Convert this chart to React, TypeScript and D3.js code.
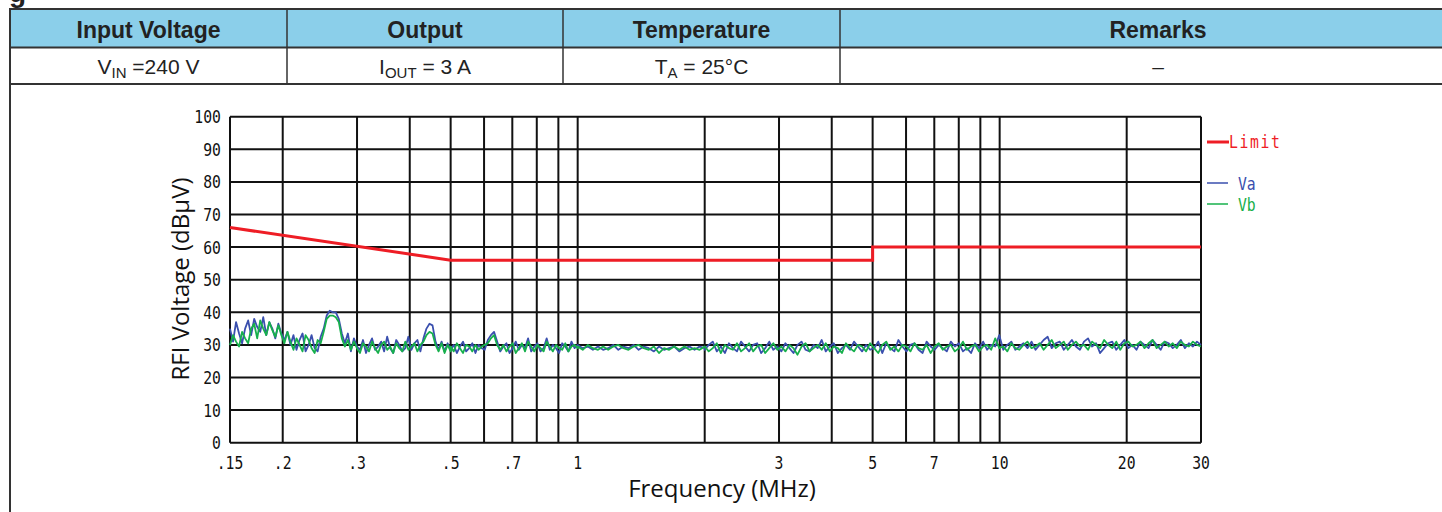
import React from 'react'
import * as d3 from 'd3'

// table content
const headers = ['Input Voltage', 'Output', 'Temperature', 'Remarks']
const conditions = [
    { main: 'V', sub: 'IN', rest: ' =240 V' },
    { main: 'I', sub: 'OUT', rest: ' = 3 A' },
    { main: 'T', sub: 'A', rest: ' = 25°C' },
    { main: '–', sub: '', rest: '' },
]

// axes
const yTicks = [0, 10, 20, 30, 40, 50, 60, 70, 80, 90, 100]
const xGrid = [0.2, 0.3, 0.4, 0.5, 0.6, 0.7, 0.8, 0.9, 1, 2, 3, 4, 5, 6, 7, 8, 9, 10, 20, 30]
const xTickValues = [0.15, 0.2, 0.3, 0.5, 0.7, 1, 3, 5, 7, 10, 20, 30]
const xTickLabels = ['.15', '.2', '.3', '.5', '.7', '1', '3', '5', '7', '10', '20', '30']

// limit line (MHz, dBuV)
const limitFreq = [0.15, 0.5, 5, 5, 30]
const limitLevel = [66, 56, 56, 60, 60]

// sweep bands (MHz), points evenly spread in log f inside each band
const bandEdges = [0.15, 0.5, 1, 2, 30]

const vaBand1 = [35, 31, 37, 33.5, 30.5, 35, 37.5, 33, 38, 35.5, 34, 38.5, 33, 37, 35, 32, 36.5, 33.5, 31.5, 34,
    30, 33, 28.5, 31.5, 33.5, 28, 30, 33, 29, 28, 32.5, 35, 39, 40.5, 40, 40, 38, 33.5, 30.5, 33.5,
    28, 32, 29.5, 28.5, 31.5, 27.5, 30, 32, 28.5, 29.5, 31, 28, 32.5, 29, 27.5, 31.5, 30, 28, 29, 32.5,
    28.5, 30.5, 31.5, 28, 32, 35, 36.5, 36, 31, 28.5, 31, 28, 30.5, 28.5]
const vaBand2 = [28.5, 30, 27.5, 29.5, 31, 28, 29, 30.5, 27.5, 30, 29, 28.5, 31.5, 33, 34, 31, 28, 29.5, 30.5, 27.5,
    29, 31, 28.5, 30, 29, 32, 28, 29.5, 30.5, 28, 29, 32, 28.5, 30, 29, 27.5, 30.5, 29.5, 28, 31, 29, 30]
const vaBand3 = [30, 29, 29.5, 28.5, 29.5, 28.5, 29, 30, 28.5, 29.5, 29, 30, 28.5, 29.5, 29, 28, 29.5, 28.5, 29, 29.5,
    28, 29, 29.5, 28.5, 29.5, 29]
const vaBand4 = [28.5, 30, 31, 28, 29.5, 27.5, 30.5, 29, 28, 31,
    29.5, 28, 30, 30.5, 27.5, 29, 31, 28.5, 29.5, 28,
    30.5, 29, 27.5, 30, 31, 28.5, 28, 30, 29, 31.5,
    28, 29.5, 30.5, 27.5, 29, 30, 28.5, 31, 29.5, 28,
    30, 28.5, 29, 31, 27.5, 30.5, 29, 28, 31.5, 29.5,
    28, 30, 30.5, 28.5, 27.5, 31, 29.5, 28.5, 30, 29,
    28, 31, 29.5, 30.5, 28, 29, 27.5, 30.5, 29, 31,
    28.5, 30, 29.5, 33, 28.5, 30, 31, 28.5, 29.5, 30.5,
    29, 31, 28.5, 30, 31.5, 32.5, 29, 30.5, 31, 28.5,
    30, 31.5, 29.5, 28.5, 31, 32, 29.5, 30.5, 27.5, 29,
    30.5, 31, 28.5, 30, 31.5, 29, 30, 28.5, 31, 30,
    29, 31.5, 30, 28.5, 31, 30.5, 29, 30, 31.5, 29,
    30.5, 29.5, 31, 30]

const vbBand1 = [30, 33, 31, 29.5, 34, 32, 30.5, 35, 36.5, 32, 37.5, 35, 33, 37, 34.5, 32.5, 36, 33, 30.5, 34,
    31, 28.5, 32, 30, 28, 33, 31.5, 29, 27.5, 31.5, 30.5, 34, 38, 39, 39, 38.5, 37, 32, 29.5, 31.5,
    28.5, 31, 29, 27.5, 30.5, 29.5, 28, 31, 29, 27.5, 30, 31, 28.5, 29.5, 27.5, 30.5, 29, 28, 31, 28.5,
    29.5, 30.5, 28, 30, 31, 33, 34, 33.5, 30, 28, 30.5, 27.5, 30, 28]
const vbBand2 = [29.5, 28, 30.5, 29, 27.5, 30, 29.5, 28, 30, 28.5, 29.5, 30, 30.5, 32, 33, 30, 28.5, 30, 28, 29.5,
    30.5, 27.5, 29, 30.5, 28, 31, 29.5, 28, 30, 29, 28, 31, 29.5, 28, 30, 29, 28.5, 30.5, 28, 29.5, 30, 29]
const vbBand3 = [29.5, 28.5, 30, 29, 28.5, 29.5, 28.5, 29.5, 30, 29, 28.5, 29.5, 30, 29, 28.5, 29.5, 27.5, 29, 28.5, 29.5,
    28.5, 29.5, 28.5, 29, 28.5, 29.5]
const vbBand4 = [29.5, 28, 29, 30.5, 27.5, 30, 29, 28.5, 30.5, 28,
    29, 30.5, 28, 29.5, 30, 27.5, 29, 30.5, 28.5, 29.5,
    28, 30, 29, 27, 29.5, 30.5, 28, 29, 30, 28.5,
    30.5, 28, 29.5, 29, 27.5, 30.5, 29, 28, 30, 29.5,
    28, 30.5, 29, 27.5, 30, 31, 28.5, 29.5, 28, 30,
    29.5, 28, 30.5, 29, 28.5, 30, 27.5, 29.5, 30.5, 28.5,
    29.5, 30, 28, 29, 31, 28.5, 29.5, 30, 28, 29.5,
    30, 28.5, 32, 29, 29.5, 28, 30.5, 29, 28.5, 30,
    31, 29, 29.5, 30.5, 28.5, 30, 31.5, 29, 30, 31,
    28.5, 30, 31, 29.5, 30, 28.5, 31, 30, 29, 31.5,
    30, 29, 31, 28.5, 30.5, 31, 29.5, 30, 31, 29,
    30.5, 31.5, 29, 30, 31, 29.5, 30.5, 29, 31, 30,
    29.5, 31, 30, 29.5]

const vaBands = [vaBand1, vaBand2, vaBand3, vaBand4]
const vbBands = [vbBand1, vbBand2, vbBand3, vbBand4]

const toPoints = (bands: number[][]) =>
    bands.flatMap((vals, b) => {
        const pos = d3.scaleLinear()
            .domain([0, vals.length - 1])
            .range([Math.log10(bandEdges[b]), Math.log10(bandEdges[b + 1])])
        return vals.map((v, i) => [Math.pow(10, pos(i)), v] as [number, number])
    })

const W = 1442
const H = 512
const colEdges = [10, 287, 563, 840, 1476]

const App = () => {
    const x = d3.scaleLog().domain([0.15, 30]).range([230, 1201])
    const y = d3.scaleLinear().domain([0, 100]).range([442.7, 116.7])

    const line = d3.line<[number, number]>()
        .x(d => x(d[0]))
        .y(d => y(d[1]))

    const limitPath = line(limitFreq.map((f, i) => [f, limitLevel[i]]))
    const vaPath = line(toPoints(vaBands))
    const vbPath = line(toPoints(vbBands))

    const tableFont = '"Liberation Sans", Arial, sans-serif'
    const monoFont = '"DejaVu Sans Mono", monospace'
    const titleFont = '"Open Sans", "Noto Sans", sans-serif'

    // narrow, tall bitmap-like tick font
    const monoLabel = (key: string | number, tx: number, ty: number, anchor: string, fill: string, label: string | number, spacing = 0) => (
        <text key={key} transform={`translate(${tx} ${ty}) scale(0.82 1)`} textAnchor={anchor}
            fontFamily={monoFont} fontSize={18} fill={fill} letterSpacing={spacing}>{label}</text>
    )

    return (
        <svg width={W} height={H} style={{ position: 'absolute', left: 0, top: 0, background: '#fff' }}>
            {/* cut-off figure caption */}
            <text x={9} y={2} fontFamily={tableFont} fontWeight="bold" fontSize={28} fill="#222">g</text>

            {/* table */}
            <rect x={10} y={9} width={W} height={38} fill="#8bcfea" />
            <line x1={10} x2={W} y1={9} y2={9} stroke="#333" strokeWidth={2} />
            <line x1={10} x2={W} y1={47.5} y2={47.5} stroke="#333" strokeWidth={2} />
            <line x1={10} x2={W} y1={84} y2={84} stroke="#333" strokeWidth={2} />
            <line x1={10} x2={10} y1={8} y2={H} stroke="#333" strokeWidth={2} />
            {colEdges.slice(1, 4).map(cx => (
                <line key={cx} x1={cx} x2={cx} y1={9} y2={84} stroke="#333" strokeWidth={1.5} />
            ))}
            {headers.map((h, i) => (
                <text key={h} x={(colEdges[i] + colEdges[i + 1]) / 2} y={37.5} textAnchor="middle"
                    fontFamily={tableFont} fontWeight="bold" fontSize={23} fill="#222">{h}</text>
            ))}
            {conditions.map((c, i) => (
                <text key={i} x={(colEdges[i] + colEdges[i + 1]) / 2} y={74} textAnchor="middle"
                    fontFamily={tableFont} fontSize={21} fill="#222">
                    {c.main}
                    {c.sub && <tspan fontSize={15} dy={4}>{c.sub}</tspan>}
                    {c.rest && <tspan dy={c.sub ? -4 : 0}>{c.rest}</tspan>}
                </text>
            ))}

            {/* grid */}
            {yTicks.map(t => (
                <line key={t} x1={230} x2={1201} y1={y(t)} y2={y(t)} stroke="#111" strokeWidth={2} />
            ))}
            <line x1={230} x2={230} y1={y(100)} y2={y(0)} stroke="#111" strokeWidth={2} />
            {xGrid.map(f => (
                <line key={f} x1={x(f)} x2={x(f)} y1={y(100)} y2={y(0)} stroke="#111" strokeWidth={2} />
            ))}

            {/* tick labels */}
            {yTicks.map(t => monoLabel(t, 221, y(t) + 6.5, 'end', '#111', t))}
            {xTickValues.map((f, i) => monoLabel(f, x(f), 469, 'middle', '#111', xTickLabels[i]))}

            {/* axis titles */}
            <text x={722} y={497} textAnchor="middle" fontFamily={titleFont} fontSize={24} fill="#111">Frequency (MHz)</text>
            <text transform="translate(189 279) rotate(-90)" textAnchor="middle" fontFamily={titleFont} fontSize={24} fill="#111">RFI Voltage (dBµV)</text>

            {/* data */}
            <path d={limitPath ?? ''} fill="none" stroke="#ee1d25" strokeWidth={3} />
            <path d={vaPath ?? ''} fill="none" stroke="#3a4fae" strokeWidth={1.8} strokeLinejoin="round" />
            <path d={vbPath ?? ''} fill="none" stroke="#17b04c" strokeWidth={1.8} strokeLinejoin="round" />

            {/* legend */}
            <line x1={1207} x2={1229} y1={142} y2={142} stroke="#ee1d25" strokeWidth={3} />
            {monoLabel('lg-limit', 1229, 148, 'start', '#ee1d25', 'Limit', 2)}
            <line x1={1207} x2={1228} y1={183} y2={183} stroke="#3a4fae" strokeWidth={1.5} />
            {monoLabel('lg-va', 1238, 190, 'start', '#3a4fae', 'Va')}
            <line x1={1207} x2={1228} y1={204} y2={204} stroke="#17b04c" strokeWidth={1.5} />
            {monoLabel('lg-vb', 1238, 211, 'start', '#17b04c', 'Vb')}
        </svg>
    )
}

export default App
